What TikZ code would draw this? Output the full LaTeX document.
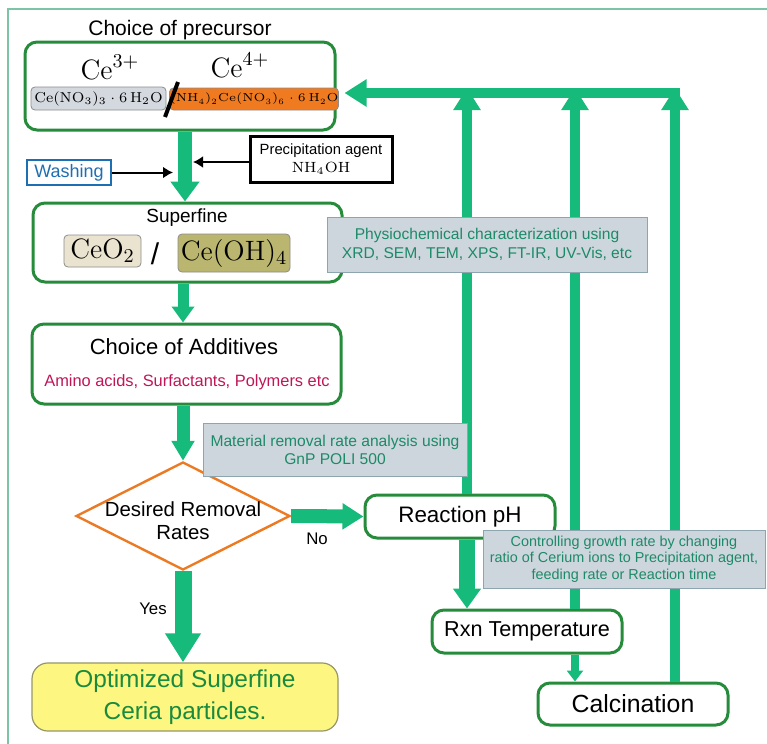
\RequirePackage{fix-cm}
\documentclass[tikz,border=0pt]{standalone}
\usepackage{amsmath}
\usepackage[no-math]{fontspec}
\setmainfont{Liberation Sans}
\usetikzlibrary{arrows.meta,shapes.geometric}

\definecolor{boxgreen}{RGB}{38,140,60}
\definecolor{arrgreen}{RGB}{22,186,122}
\definecolor{notefill}{RGB}{206,214,221}
\definecolor{noteline}{RGB}{140,165,175}
\definecolor{notetext}{RGB}{28,138,104}
\definecolor{washblue}{RGB}{30,110,178}
\definecolor{diaorange}{RGB}{236,122,34}
\definecolor{canorange}{RGB}{240,122,32}
\definecolor{nitgray}{RGB}{212,217,224}
\definecolor{oxbeige}{RGB}{234,227,208}
\definecolor{hydolive}{RGB}{186,182,112}
\definecolor{optyellow}{RGB}{253,246,128}
\definecolor{optline}{RGB}{150,150,105}
\definecolor{opttext}{RGB}{26,138,62}
\definecolor{aminored}{RGB}{192,22,88}
\definecolor{framegreen}{RGB}{125,195,165}

\newcommand{\fsz}[2]{\fontsize{#1}{#2}\selectfont}

\begin{document}
\begin{tikzpicture}[x=0.5pt,y=-0.5pt,
  box/.style={draw=boxgreen,line width=1.5pt,rounded corners=6pt,fill=white},
  chem/.style={draw=black!45,rounded corners=2pt,inner sep=0pt},
  note/.style={draw=noteline,fill=notefill,text=notetext,align=center,inner sep=0pt},
  flow/.style n args={3}{draw=arrgreen,line width=#1,-{Triangle[width=#2,length=#3]}},
  loopback/.style={draw=arrgreen,line width=5pt,-{Triangle[width=13pt,length=11pt]}},
  feed/.style={-{Latex[length=5pt,width=6pt]},line width=1pt}]

  \useasboundingbox (0,0) rectangle (767,744);
  \draw[framegreen,line width=0.6pt] (767,9) -- (8,9) -- (8,744);

  \node[box,minimum width=155pt,minimum height=44pt] (prec) at (180,86) {};
  \node[font=\fsz{10.5}{12}] (ptitle) at (180,30) {Choice of precursor};
  \node[font=\fsz{14}{16}] (ce3) at (110,67) {$\mathrm{Ce}^{3+}$};
  \node[font=\fsz{14}{16}] (ce4) at (240,65) {$\mathrm{Ce}^{4+}$};
  \node[chem,fill=nitgray,minimum width=67.5pt,minimum height=11.5pt,font=\fsz{7.2}{9}] (nitr) at (98.5,98.5) {$\mathrm{Ce(NO_3)_3\cdot 6\,H_2O}$};
  \node[chem,fill=canorange,minimum width=78pt,minimum height=11pt,font=\fsz{5.8}{8}] (can) at (254,99) {$\mathrm{(NH_4)_2Ce(NO_3)_6\cdot 6\,H_2O}$};
  \draw[line width=2pt] (165,117) -- (178,82);

  \node[draw=washblue,line width=1.2pt,text=washblue,minimum width=42pt,minimum height=12.5pt,inner sep=1pt,font=\fsz{9}{11}] (wash) at (69,172.5) {Washing};
  \node[draw,line width=1.5pt,align=center,minimum width=71pt,minimum height=23pt,inner sep=1pt,font=\fsz{7.4}{9}] (prag) at (321,159) {Precipitation agent\\$\mathrm{NH_4OH}$};
  \coordinate (wtip) at (173,172.5);
  \coordinate (ptip) at (193,162);
  \draw[feed] (wash) -- (wtip);
  \draw[feed] (prag.west |- ptip) -- (ptip);

  \node[box,minimum width=154.5pt,minimum height=39.5pt] (sup) at (187.5,242.5) {};
  \node[font=\fsz{9.5}{11}] (suptitle) at (187,218) {Superfine};
  \node[chem,fill=oxbeige,minimum width=38.5pt,minimum height=16pt,font=\fsz{14}{16}] (oxide) at (102.5,251) {$\mathrm{CeO_2}$};
  \node[font=\fsz{15}{17}] (sl) at (155,254) {/};
  \node[chem,fill=hydolive,minimum width=56pt,minimum height=19pt,font=\fsz{14}{16}] (hydr) at (234,253) {$\mathrm{Ce(OH)_4}$};

  \node[box,minimum width=154.5pt,minimum height=40pt] (add) at (186.5,364) {};
  \node[font=\fsz{11}{13}] (addtitle) at (184,347) {Choice of Additives};
  \node[font=\fsz{8.2}{10},text=aminored] (addlist) at (187,382) {Amino acids, Surfactants, Polymers etc};

  \node[diamond,draw=diaorange,line width=1.2pt,minimum width=107pt,minimum height=54pt,inner sep=0pt] (dec) at (183,516) {};
  \node[align=center,font=\fsz{10.2}{11.5}] (dectext) at (183,521) {Desired Removal\\Rates};

  \node[box,minimum width=95pt,minimum height=21.5pt,font=\fsz{11.2}{13}] (ph) at (460,516.5) {Reaction pH};
  \node[box,minimum width=95pt,minimum height=21.5pt,font=\fsz{10.8}{13}] (temp) at (527,631.5) {Rxn Temperature};
  \node[box,minimum width=95pt,minimum height=21pt,font=\fsz{12.4}{14}] (calc) at (633,704) {Calcination};
  \node[box,fill=optyellow,draw=optline,line width=0.6pt,rounded corners=8pt,text=opttext,align=center,minimum width=153pt,minimum height=33pt,font=\fsz{12.2}{16}] (opt) at (185,697) {Optimized Superfine\\Ceria particles.};

  \coordinate (col) at (185,0);
  \coordinate (l1) at (467,88);
  \coordinate (l2) at (575,88);
  \coordinate (l3) at (675,88);
  \coordinate (h0) at (680,93);

  \draw[flow={7pt}{14pt}{10pt}] (prec.south -| col) -- (sup.north -| col);
  \draw[flow={5.5pt}{11pt}{8pt}] (sup.south -| dec.north) -- (add.north -| dec.north);
  \draw[flow={6.5pt}{11pt}{10pt}] (add.south -| dec.north) -- (dec.north);
  \draw[flow={7pt}{12.5pt}{10.5pt}] (dec.east) -- (ph.west);
  \draw[flow={8.5pt}{17pt}{14.5pt}] (dec.south) -- (opt.north -| dec.south);
  \draw[flow={8pt}{13.5pt}{10pt}] (ph.south -| l1) -- (temp.north -| l1);
  \draw[flow={4pt}{8pt}{5.5pt}] (temp.south -| l2) -- (calc.north -| l2);

  \draw[loopback] (ph.north -| l1) -- (l1);
  \draw[loopback] (temp.north -| l2) -- (l2);
  \draw[loopback] (calc.north -| l3) -- (l3);
  \draw[loopback,shorten >=4pt] (h0) -- (h0 -| prec.east);

  \node[note,minimum width=160pt,minimum height=27.5pt,font=\fsz{7.8}{9.5}] (phys) at (487,244.5) {Physiochemical characterization using\\XRD, SEM, TEM, XPS, FT-IR, UV-Vis, etc};
  \node[note,minimum width=132pt,minimum height=26.5pt,font=\fsz{7.8}{9}] (mrr) at (335,449.5) {Material removal rate analysis using\\GnP POLI 500};
  \node[note,minimum width=141pt,minimum height=29pt,font=\fsz{7.2}{8.3}] (ctrl) at (624,559) {Controlling growth rate by changing\\ratio of Cerium ions to Precipitation agent,\\feeding rate or Reaction time};

  \node[font=\fsz{8.4}{10}] (no) at (317,539) {No};
  \node[font=\fsz{8.4}{10}] (yes) at (153,609) {Yes};
\end{tikzpicture}
\end{document}
